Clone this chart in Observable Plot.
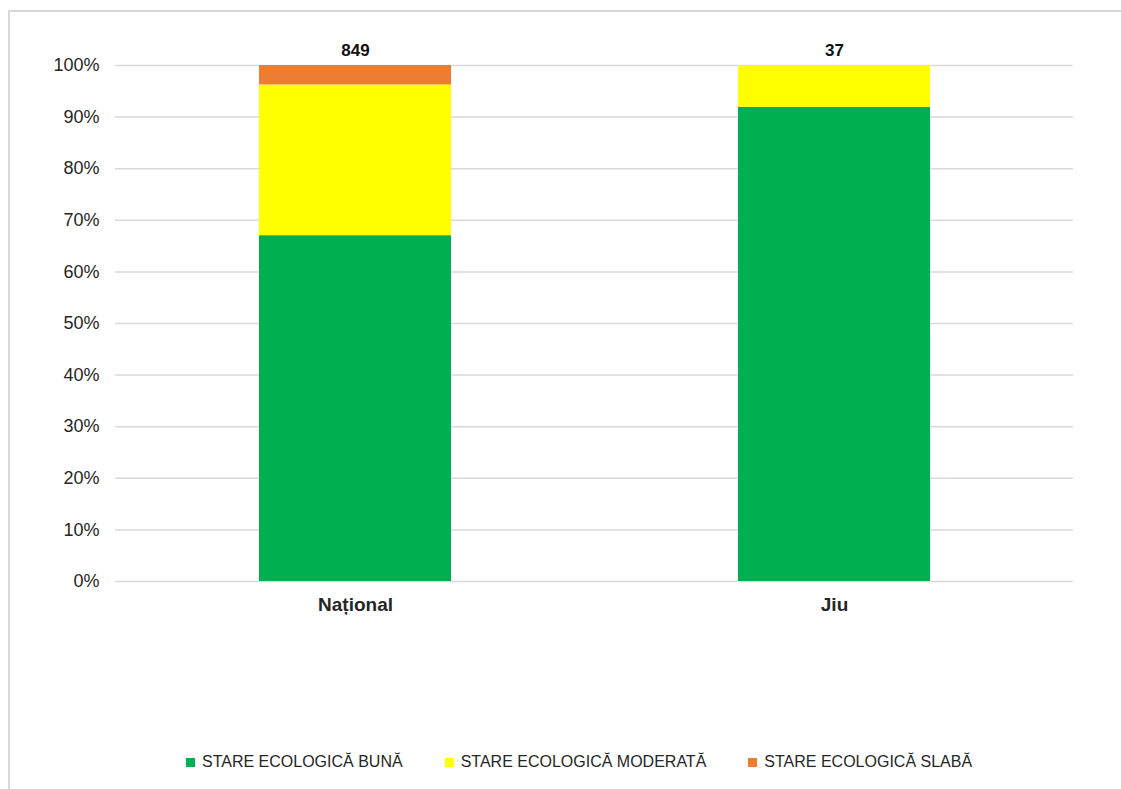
<!DOCTYPE html>
<html>
<head>
<meta charset="utf-8">
<script src="https://cdn.jsdelivr.net/npm/d3@7"></script>
<script src="https://cdn.jsdelivr.net/npm/@observablehq/plot@0.6"></script>
<style>
  html, body { margin: 0; padding: 0; background: #fff; }
  body { width: 1121px; height: 789px; position: relative; overflow: hidden; font-family: "Liberation Sans", Arial, sans-serif; }
  #frame { position: absolute; left: 8px; top: 10px; width: 1200px; height: 900px; border-left: 2px solid #d9d9d9; border-top: 2px solid #d9d9d9; box-sizing: border-box; }
  #chart { position: absolute; left: 0; top: 0; }
  #legend { position: absolute; left: 186px; top: 753px; display: flex; align-items: center; font-size: 16px; color: #262626; }
  .item { display: flex; align-items: center; margin-right: 42px; }
  .sw { width: 9px; height: 9px; margin-right: 7px; }
</style>
</head>
<body>
<div id="frame"></div>
<div id="chart"></div>
<div id="legend"></div>
<script>
const regions = ["Național", "Jiu"];
const categories = ["STARE ECOLOGICĂ BUNĂ", "STARE ECOLOGICĂ MODERATĂ", "STARE ECOLOGICĂ SLABĂ"];
const colors = ["#00b050", "#ffff00", "#ed7d31"];
const good = [569, 34];
const moderate = [248, 3];
const poor = [32, 0];
const totals = [849, 37];
const yTicks = [0, 0.1, 0.2, 0.3, 0.4, 0.5, 0.6, 0.7, 0.8, 0.9, 1];

const series = [good, moderate, poor];
const data = [];
regions.forEach((r, i) => {
  series.forEach((s, k) => data.push({region: r, category: categories[k], value: s[i]}));
});
const totalData = regions.map((r, i) => ({region: r, total: totals[i]}));

const chart = Plot.plot({
  width: 1121,
  height: 640,
  marginLeft: 115,
  marginRight: 48,
  marginTop: 65,
  marginBottom: 59,
  style: { fontFamily: "'Liberation Sans', Arial, sans-serif", color: "#262626", background: "transparent" },
  x: { domain: regions, paddingInner: 0.6, paddingOuter: 0.3, label: null },
  y: { domain: [0, 1], label: null },
  color: { domain: categories, range: colors },
  marks: [
    Plot.gridY(yTicks, { stroke: "#d9d9d9", strokeOpacity: 1, strokeWidth: 1.5 }),
    Plot.barY(data, Plot.stackY({ offset: "normalize", order: null }, { x: "region", y: "value", fill: "category" })),
    Plot.axisY(yTicks, { tickSize: 0, tickPadding: 16, fontSize: 18, tickFormat: d => Math.round(d * 100) + "%", label: null }),
    Plot.axisX({ tickSize: 0, tickPadding: 16, fontSize: 19, fontWeight: "bold", label: null }),
    Plot.text(totalData, { x: "region", y: () => 1, text: d => String(d.total), dy: -15, fontSize: 17, fontWeight: "bold", fill: "#111" })
  ]
});
document.getElementById("chart").appendChild(chart);

const legend = document.getElementById("legend");
categories.forEach((c, i) => {
  const it = document.createElement("div");
  it.className = "item";
  const sw = document.createElement("div");
  sw.className = "sw";
  sw.style.background = colors[i];
  const t = document.createElement("span");
  t.textContent = c;
  it.appendChild(sw);
  it.appendChild(t);
  legend.appendChild(it);
});
</script>
</body>
</html>
